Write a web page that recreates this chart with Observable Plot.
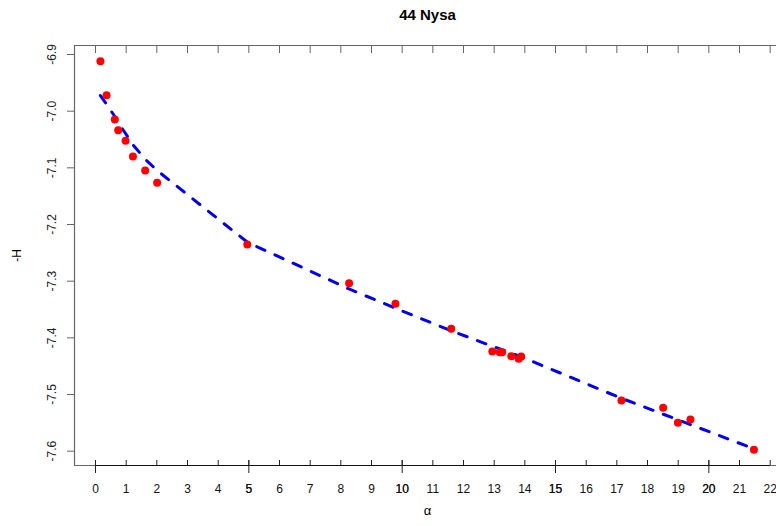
<!DOCTYPE html>
<html>
<head>
<meta charset="utf-8">
<script src="https://cdn.jsdelivr.net/npm/d3@7"></script>
<script src="https://cdn.jsdelivr.net/npm/@observablehq/plot@0.6"></script>
<style>
  html, body { margin: 0; padding: 0; background: #fff; }
  #chart svg { display: block; }
</style>
</head>
<body>
<div id="chart"></div>
<script>
// Observed points for 44 Nysa: phase angle α (deg) vs −H
const alpha = [0.16, 0.36, 0.63, 0.74, 0.98, 1.22, 1.62, 2.01, 4.95, 8.27, 9.78, 11.60,
               12.94, 13.18, 13.26, 13.56, 13.80, 13.88, 17.15, 18.51, 18.99, 19.40, 21.47];
const negH = [-6.9118, -6.9718, -7.0147, -7.0336, -7.0523, -7.0800, -7.1047, -7.1264,
              -7.2353, -7.3035, -7.3399, -7.3841, -7.4241, -7.4253, -7.4253, -7.4324,
              -7.4370, -7.4329, -7.5106, -7.5235, -7.5499, -7.5441, -7.5976];
// Fitted model evaluated at the same α values
const fitH = [-6.9724, -6.9877, -7.0094, -7.0209, -7.0394, -7.0592, -7.0848, -7.1047,
              -7.2312, -7.3138, -7.3477, -7.3876, -7.4148, -7.4193, -7.4211, -7.4271,
              -7.4317, -7.4335, -7.5067, -7.5347, -7.5447, -7.5531, -7.5958];

const xTicks = d3.range(0, 23);
const xMajor = [0, 5, 10, 15, 20];
const xBoldLabels = [5, 10, 15, 20];
const yTicks = [-6.9, -7.0, -7.1, -7.2, -7.3, -7.4, -7.5, -7.6];

const xDomain = [-0.685, 22.206];
const yDomain = [-7.6253, -6.8841];

const rows = alpha.map((a, i) => ({alpha: a, h: negH[i], fit: fitH[i]}));

const frameColor = "#666";

const chart = Plot.plot({
  width: 776,
  height: 526,
  marginTop: 45,
  marginBottom: 61,
  marginLeft: 74,
  marginRight: 0,
  x: {domain: xDomain, axis: null},
  y: {domain: yDomain, axis: null},
  style: {
    fontFamily: "'Liberation Sans', Arial, Helvetica, sans-serif",
    fontSize: "12px",
    background: "white",
    color: "black"
  },
  marks: [
    // box (left, top, bottom)
    Plot.ruleX([xDomain[0]], {stroke: frameColor, strokeWidth: 1.2}),
    Plot.ruleY([yDomain[1]], {stroke: frameColor, strokeWidth: 1.2}),
    Plot.ruleY([yDomain[0]], {stroke: frameColor, strokeWidth: 1.2}),
    // bottom axis line over the tick range
    Plot.ruleY([yDomain[0]], {x1: xTicks[0], x2: xTicks[xTicks.length - 1], stroke: "#111", strokeWidth: 1.2}),
    // inward ticks along top and bottom
    Plot.ruleX(xTicks, {stroke: frameColor, insetBottom: 412}),
    Plot.ruleX(xTicks, {stroke: "#222", insetTop: 415}),
    Plot.ruleX(xMajor, {stroke: "#222", insetTop: 415, insetBottom: -8}),
    // left ticks
    Plot.ruleY(yTicks, {stroke: frameColor, insetLeft: -7, insetRight: 702}),
    // tick labels
    Plot.text(xTicks, {x: d => d, frameAnchor: "bottom", dy: 24, lineAnchor: "middle", text: d => String(d), fill: "#111"}),
    Plot.text(xBoldLabels, {x: d => d, frameAnchor: "bottom", dy: 24, lineAnchor: "middle", text: d => String(d), fill: "#111"}),
    Plot.text(yTicks, {y: d => d, frameAnchor: "left", dx: -22, rotate: -90, textAnchor: "middle", lineAnchor: "middle", text: d => d.toFixed(1), fill: "#222"}),
    // titles
    Plot.text(["44 Nysa"], {frameAnchor: "top", dy: -30, dx: 2, lineAnchor: "middle", fontWeight: "bold", fontSize: 15}),
    Plot.text(["α"], {frameAnchor: "bottom", dy: 45, dx: 2, lineAnchor: "middle", fontSize: 13}),
    Plot.text(["-H"], {frameAnchor: "left", dx: -57, rotate: -90, lineAnchor: "middle", textAnchor: "middle", fontSize: 12}),
    // fitted curve
    Plot.line(rows, {x: "alpha", y: "fit", stroke: "#0000ee", strokeWidth: 3, strokeDasharray: "9,11", strokeLinecap: "round"}),
    // observations
    Plot.dot(rows, {x: "alpha", y: "h", r: 4, fill: "#ff0000", stroke: "none"})
  ]
});

document.getElementById("chart").appendChild(chart);
</script>
</body>
</html>
